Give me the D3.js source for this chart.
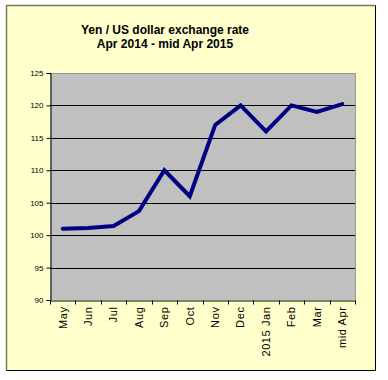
<!DOCTYPE html>
<html>
<head>
<meta charset="utf-8">
<script src="https://cdn.jsdelivr.net/npm/d3@7"></script>
<style>
  body { margin: 0; background: #fff; }
  svg { display: block; font-family: "Liberation Sans", Arial, sans-serif; }
</style>
</head>
<body>
<svg width="388" height="380"></svg>
<script>
var months = ['May', 'Jun', 'Jul', 'Aug', 'Sep', 'Oct', 'Nov', 'Dec', '2015 Jan', 'Feb', 'Mar', 'mid Apr'];
var rates = [101, 101.1, 101.4, 103.7, 110, 106, 117, 120, 116, 120, 119, 120.2];
var yTicks = [90, 95, 100, 105, 110, 115, 120, 125];

var svg = d3.select('svg');

// outer frame
svg.append('rect')
    .attr('x', 6.5).attr('y', 5.5)
    .attr('width', 369).attr('height', 365)
    .attr('fill', '#ffffcc');
svg.append('path')
    .attr('d', 'M6.5,370.5 V5.5 H375.5')
    .attr('fill', 'none').attr('stroke', '#7a7a5a').attr('stroke-width', 1.5);
svg.append('path')
    .attr('d', 'M375.5,5.5 V370.5 H6.5')
    .attr('fill', 'none').attr('stroke', '#000').attr('stroke-width', 1);

// title
svg.append('text')
    .attr('x', 165).attr('y', 34)
    .attr('text-anchor', 'middle')
    .attr('font-size', 12).attr('font-weight', 'bold')
    .text('Yen / US dollar exchange rate');
svg.append('text')
    .attr('x', 165).attr('y', 48)
    .attr('text-anchor', 'middle')
    .attr('font-size', 12).attr('font-weight', 'bold')
    .text('Apr 2014 - mid Apr 2015');

var plotL = 50, plotR = 355, plotT = 73, plotB = 300;

var x = d3.scaleBand().domain(months).range([plotL, plotR]);
var y = d3.scaleLinear().domain([90, 125]).range([plotB, plotT]);

svg.append('rect')
    .attr('x', plotL).attr('y', plotT)
    .attr('width', plotR - plotL).attr('height', plotB - plotT)
    .attr('fill', '#c0c0c0');

// gridlines
svg.selectAll('line.grid')
    .data(yTicks.slice(1, -1))
    .enter()
    .append('line')
    .attr('class', 'grid')
    .attr('x1', plotL).attr('x2', plotR)
    .attr('y1', function(d){ return Math.round(y(d)) + 0.5; })
    .attr('y2', function(d){ return Math.round(y(d)) + 0.5; })
    .attr('stroke', '#000')
    .attr('stroke-width', 1);

// plot border right/top in gray
svg.append('path')
    .attr('d', 'M' + plotL + ',' + (plotT + 0.5) + ' H' + (plotR + 0.5) + ' V' + plotB)
    .attr('fill', 'none').attr('stroke', '#999');

// y axis
var yAxis = svg.append('g')
    .attr('transform', 'translate(' + (plotL + 0.5) + ',0)')
    .call(d3.axisLeft(y).tickValues(yTicks).tickSize(4).tickPadding(3));
yAxis.selectAll('text').attr('font-size', 8).attr('fill', '#000').style('font-family', 'Liberation Sans, Arial, sans-serif');
yAxis.selectAll('line').attr('stroke', '#000');
yAxis.select('.domain').attr('stroke', '#000');

// x axis
var xAxis = svg.append('g')
    .attr('transform', 'translate(0,' + (plotB + 0.5) + ')')
    .call(d3.axisBottom(x).tickSize(0));
xAxis.select('.domain').attr('stroke', '#000');
xAxis.selectAll('text')
    .attr('font-size', 11)
    .attr('letter-spacing', 0.6)
    .attr('fill', '#000')
    .style('font-family', 'Liberation Sans, Arial, sans-serif')
    .attr('text-anchor', 'end')
    .attr('dy', '0.35em')
    .attr('transform', 'translate(0,6) rotate(-90)')
    .attr('x', 0).attr('y', 0);
xAxis.selectAll('line.sep')
    .data(months.concat(['end']))
    .enter()
    .append('line')
    .attr('class', 'sep')
    .attr('x1', function(d, i){ return Math.round(plotL + i * x.bandwidth()) + 0.5; })
    .attr('x2', function(d, i){ return Math.round(plotL + i * x.bandwidth()) + 0.5; })
    .attr('y1', 0).attr('y2', 4)
    .attr('stroke', '#000');

// the rate line
var line = d3.line()
    .x(function(d, i){ return x(months[i]) + x.bandwidth() / 2; })
    .y(function(d){ return y(d); });

svg.append('path')
    .datum(rates)
    .attr('d', line)
    .attr('fill', 'none')
    .attr('stroke', '#000080')
    .attr('stroke-width', 4)
    .attr('stroke-linejoin', 'miter')
    .attr('stroke-linecap', 'round');
</script>
</body>
</html>
